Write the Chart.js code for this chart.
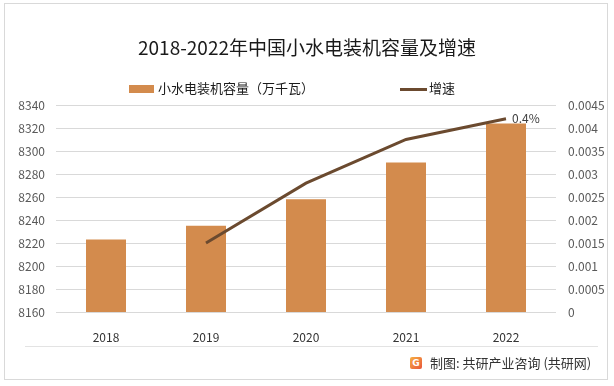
<!DOCTYPE html>
<html>
<head>
<meta charset="utf-8">
<script src="https://cdn.jsdelivr.net/npm/chart.js@4/dist/chart.umd.min.js"></script>
<style>
  body { margin: 0; background: #fff; font-family: "Noto Sans CJK SC", "Noto Sans", sans-serif; }
  #wrap { position: relative; width: 614px; height: 386px; overflow: hidden; }
  #frame { position: absolute; left: 4px; top: 3px; width: 604px; height: 377px; border: 1px solid #d9d9d9; box-sizing: border-box; pointer-events: none; }
  #title { position: absolute; left: 0; width: 614px; top: 33px; text-align: center; font-size: 19px; color: #1a1a1a; line-height: 28px; }
  .leg { position: absolute; top: 79px; font-size: 13px; color: #1a1a1a; line-height: 18px; }
  .sw { display: inline-block; vertical-align: middle; margin-right: 4px; }
  #sep { position: absolute; left: 25px; top: 346px; width: 573px; height: 1px; background: #e3e3e3; }
  #foot { position: absolute; left: 430px; top: 354px; font-size: 13px; color: #333; line-height: 18px; }
  #logo { position: absolute; left: 410px; top: 357px; width: 12px; height: 12px; border-radius: 2px;
          background: linear-gradient(135deg, #f7b042, #e8553a); color: #fff; font: bold 9px "DejaVu Sans", sans-serif; text-align: center; line-height: 12px; }
</style>
</head>
<body>
<div id="wrap">
  <canvas id="hydroChart" width="614" height="386"></canvas>
  <div id="title">2018-2022年中国小水电装机容量及增速</div>
  <div class="leg" style="left:129px"><span class="sw" style="width:25px;height:8px;background:#d38b4d"></span>小水电装机容量（万千瓦）</div>
  <div class="leg" style="left:400px"><span class="sw" style="width:27px;height:3px;background:#6b4a2f;margin-right:2px"></span>增速</div>
  <div id="sep"></div>
  <div id="logo">G</div>
  <div id="foot">制图: 共研产业咨询 (共研网)</div>
  <div id="frame"></div>
</div>
<script>
// 数据
const years = ['2018', '2019', '2020', '2021', '2022'];
const capacity = [8223, 8235, 8258, 8290, 8324];
const growth = [null, 0.0015, 0.0028, 0.00375, 0.0042];
const growthLabel = '0.4%';

// 最后一个点旁边的标签
const lastLabel = {
    id: 'lastLabel',
    afterDatasetsDraw(chart) {
        const meta = chart.getDatasetMeta(1);
        const pt = meta.data[meta.data.length - 1];
        const ctx = chart.ctx;
        ctx.save();
        ctx.font = '12px "Noto Sans CJK SC", sans-serif';
        ctx.fillStyle = '#404040';
        ctx.textBaseline = 'middle';
        ctx.fillText(growthLabel, pt.x + 6, pt.y);
        ctx.restore();
    }
};

const ctx = document.getElementById('hydroChart').getContext('2d');
const hydroChart = new Chart(ctx, {
    data: {
        labels: years,
        datasets: [{
            type: 'bar',
            label: '小水电装机容量（万千瓦）',
            data: capacity,
            backgroundColor: '#d38b4d',
            categoryPercentage: 1,
            barPercentage: 0.4,
            yAxisID: 'y',
            order: 2
        }, {
            type: 'line',
            label: '增速',
            data: growth,
            borderColor: '#6b4a2f',
            borderWidth: 3,
            pointRadius: 0,
            tension: 0,
            yAxisID: 'y1',
            order: 1
        }]
    },
    options: {
        responsive: false,
        animation: false,
        layout: { padding: { top: 105, bottom: 44, left: 0, right: 0 } },
        plugins: {
            legend: { display: false },
            tooltip: { enabled: false }
        },
        scales: {
            x: {
                grid: { display: false },
                border: { display: false },
                ticks: { padding: 10, color: '#333', font: { size: 12, family: '"Noto Sans CJK SC", sans-serif' } },
                afterFit(scale) { scale.height = 30; }
            },
            y: {
                position: 'left',
                min: 8160,
                max: 8340,
                ticks: { stepSize: 20, padding: 11, color: '#595959', font: { size: 12, family: '"Noto Sans CJK SC", sans-serif' },
                         callback: v => String(v) },
                grid: { color: '#d9d9d9', drawTicks: false },
                border: { display: false },
                afterFit(scale) { scale.width = 56; }
            },
            y1: {
                position: 'right',
                min: 0,
                max: 0.0045,
                ticks: { stepSize: 0.0005, padding: 12, color: '#595959', font: { size: 12, family: '"Noto Sans CJK SC", sans-serif' },
                         callback: v => String(parseFloat(v.toFixed(4))) },
                grid: { display: false, drawTicks: false },
                border: { display: false },
                afterFit(scale) { scale.width = 58; }
            }
        }
    },
    plugins: [lastLabel]
});
</script>
</body>
</html>
